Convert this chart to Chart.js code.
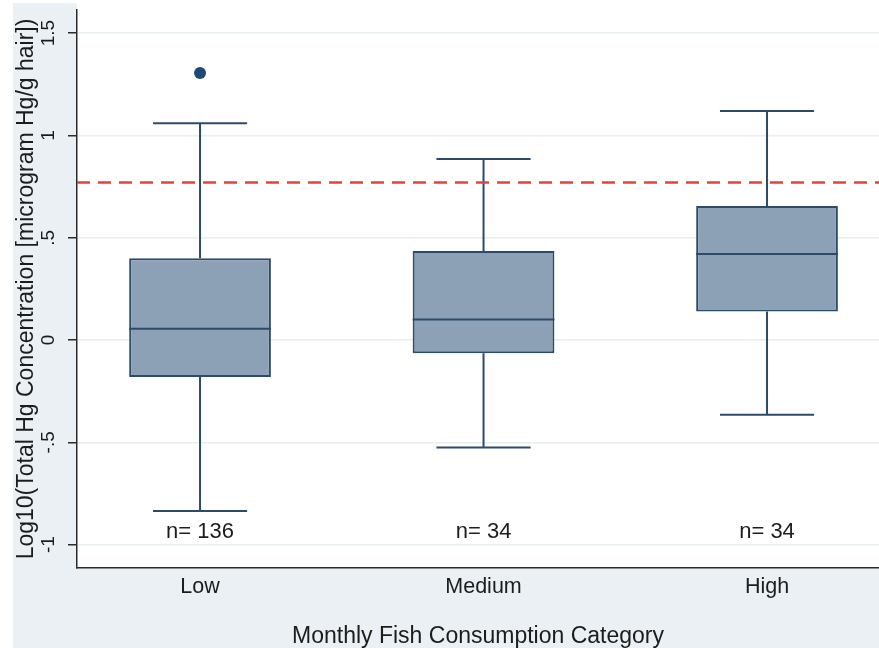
<!DOCTYPE html>
<html>
<head>
<meta charset="utf-8">
<script src="https://cdn.jsdelivr.net/npm/chart.js@4.4.1/dist/chart.umd.min.js"></script>
<style>
  html, body { margin: 0; padding: 0; background: #fff; overflow: hidden; }
  canvas { display: block; }
</style>
</head>
<body>
<canvas id="chart" width="879" height="648" style="width:879px;height:648px"></canvas>
<script>
// box plot values (log10 scale)
const categories = ['Low', 'Medium', 'High'];
const groupPos = [1, 2, 3];
const whiskerLow = [-0.835, -0.525, -0.365];
const q1 = [-0.18, -0.065, 0.14];
const median = [0.055, 0.10, 0.42];
const q3 = [0.40, 0.435, 0.655];
const whiskerHigh = [1.06, 0.885, 1.12];
const outlierGroup = [1];
const outlierValue = [1.305];
const groupN = [136, 34, 34];
const nLabelY = -0.94;
const refLine = 0.77;
const yTicks = [-1, -0.5, 0, 0.5, 1, 1.5];
const yTickLabels = ['-1', '-.5', '0', '.5', '1', '1.5'];

const xMin = 0.566, xMax = 3.395;
const yMin = -1.114, yMax = 1.613;
const capHalf = 0.166;

const boxColor = '#8ca1b5';
const lineColor = '#2b4b6c';
const inkColor = '#1c1c1c';

Chart.defaults.font.family = '"Liberation Sans", Arial, Helvetica, sans-serif';
Chart.defaults.color = inkColor;

const boxExtras = {
  id: 'boxExtras',
  beforeDraw(chart) {
    const { ctx, chartArea } = chart;
    ctx.save();
    ctx.fillStyle = '#ffffff';
    ctx.fillRect(0, 0, chart.width, chart.height);
    ctx.fillStyle = '#eaf0f3';
    ctx.fillRect(13, 3, chart.width - 13, chart.height - 3);
    ctx.fillStyle = '#ffffff';
    ctx.fillRect(chartArea.left, 0, chart.width - chartArea.left, chartArea.bottom);
    ctx.restore();
  },
  beforeDatasetsDraw(chart) {
    const { ctx, scales: { x, y } } = chart;
    ctx.save();
    ctx.strokeStyle = lineColor;
    ctx.lineWidth = 2;
    groupPos.forEach((g, i) => {
      const px = x.getPixelForValue(g);
      const l = x.getPixelForValue(g - capHalf);
      const r = x.getPixelForValue(g + capHalf);
      ctx.beginPath();
      ctx.moveTo(px, y.getPixelForValue(q3[i]));
      ctx.lineTo(px, y.getPixelForValue(whiskerHigh[i]));
      ctx.moveTo(px, y.getPixelForValue(q1[i]));
      ctx.lineTo(px, y.getPixelForValue(whiskerLow[i]));
      ctx.moveTo(l, y.getPixelForValue(whiskerHigh[i]));
      ctx.lineTo(r, y.getPixelForValue(whiskerHigh[i]));
      ctx.moveTo(l, y.getPixelForValue(whiskerLow[i]));
      ctx.lineTo(r, y.getPixelForValue(whiskerLow[i]));
      ctx.stroke();
    });
    ctx.restore();
  },
  afterDatasetsDraw(chart) {
    const { ctx, scales: { y } } = chart;
    const bars = chart.getDatasetMeta(0).data;
    ctx.save();
    ctx.strokeStyle = lineColor;
    ctx.lineWidth = 2;
    bars.forEach((bar, i) => {
      const py = y.getPixelForValue(median[i]);
      ctx.beginPath();
      ctx.moveTo(bar.x - bar.width / 2, py);
      ctx.lineTo(bar.x + bar.width / 2, py);
      ctx.stroke();
    });
    ctx.restore();
  },
  afterDraw(chart) {
    const { ctx, scales: { x, y } } = chart;
    ctx.save();
    ctx.fillStyle = inkColor;
    ctx.textAlign = 'center';
    ctx.textBaseline = 'middle';
    // n= labels
    ctx.font = '22px "Liberation Sans", Arial, sans-serif';
    groupPos.forEach((g, i) => {
      ctx.fillText('n= ' + groupN[i], x.getPixelForValue(g), y.getPixelForValue(nLabelY));
    });
    // vertical y tick labels, Stata style
    ctx.font = '19px "Liberation Sans", Arial, sans-serif';
    yTicks.forEach((v, i) => {
      ctx.save();
      ctx.translate(49, y.getPixelForValue(v));
      ctx.rotate(-Math.PI / 2);
      ctx.fillText(yTickLabels[i], 0, 0);
      ctx.restore();
    });
    ctx.restore();
  }
};

new Chart(document.getElementById('chart'), {
  type: 'bar',
  data: {
    datasets: [
      {
        type: 'bar',
        order: 2,
        data: groupPos.map((g, i) => ({ x: g, y: [q1[i], q3[i]] })),
        backgroundColor: boxColor,
        borderColor: lineColor,
        borderWidth: 2,
        borderSkipped: false,
        categoryPercentage: 1,
        barPercentage: 0.5,
      },
      {
        type: 'scatter',
        order: 1,
        data: outlierGroup.map((g, i) => ({ x: g, y: outlierValue[i] })),
        backgroundColor: '#1e4877',
        borderWidth: 0,
        pointRadius: 6,
      },
      {
        type: 'line',
        order: 0,
        data: [{ x: xMin, y: refLine }, { x: xMax, y: refLine }],
        borderColor: '#e6403f',
        borderWidth: 2.5,
        borderDash: [13, 8],
        pointRadius: 0,
      },
    ],
  },
  options: {
    responsive: false,
    animation: false,
    devicePixelRatio: 1,
    layout: { autoPadding: false, padding: { top: 10, left: 0, right: 0, bottom: 0 } },
    plugins: { legend: { display: false }, tooltip: { enabled: false } },
    scales: {
      x: {
        type: 'linear',
        min: xMin,
        max: xMax,
        offset: false,
        afterBuildTicks: (s) => { s.ticks = groupPos.map((v) => ({ value: v })); },
        afterFit: (s) => { s.height = 80; s.paddingLeft = 0; s.paddingRight = 0; },
        ticks: {
          callback: (v) => categories[groupPos.indexOf(v)],
          font: { size: 21.5 },
          color: inkColor,
          padding: 6,
          maxRotation: 0,
        },
        grid: { display: false, drawTicks: false, offset: false },
        border: { display: true, color: '#2a2a2a', width: 1.5 },
        title: {
          display: true,
          text: 'Monthly Fish Consumption Category',
          font: { size: 23, lineHeight: 1 },
          color: inkColor,
          padding: { top: 0, bottom: 0 },
        },
      },
      y: {
        min: yMin,
        max: yMax,
        afterBuildTicks: (s) => { s.ticks = yTicks.map((v) => ({ value: v })); },
        afterFit: (s) => { s.width = 77; s.paddingTop = 0; s.paddingBottom = 0; },
        ticks: { display: false },
        grid: {
          color: '#e8eded',
          lineWidth: 1.5,
          drawTicks: true,
          tickLength: 9,
          tickColor: '#2a2a2a',
          tickWidth: 1.5,
        },
        border: { display: true, color: '#2a2a2a', width: 1.5 },
        title: {
          display: true,
          text: 'Log10(Total Hg Concentration [microgram Hg/g hair])',
          font: { size: 23 },
          color: inkColor,
          padding: { top: 13, bottom: 0 },
        },
      },
    },
  },
  plugins: [boxExtras],
});
</script>
</body>
</html>
